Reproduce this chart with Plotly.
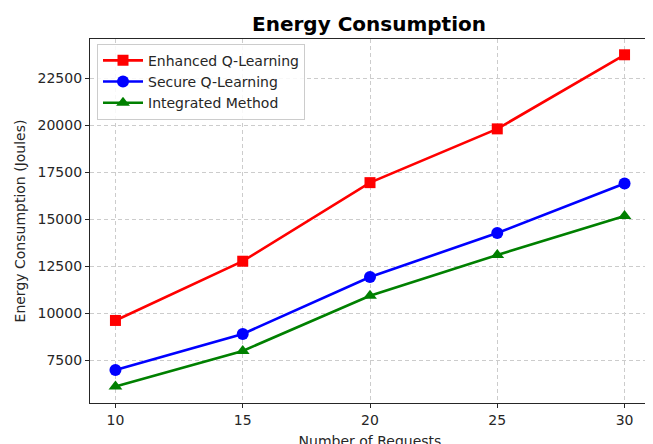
import plotly.graph_objects as go

requests = [10, 15, 20, 25, 30]
enhanced = [9620, 12770, 16950, 19810, 23750]
secure = [6980, 8900, 11930, 14270, 16900]
integrated = [6100, 8000, 10930, 13100, 15180]

x_ticks = [10, 15, 20, 25, 30]
y_ticks = [7500, 10000, 12500, 15000, 17500, 20000, 22500]

fig = go.Figure()
series = [
    ("Enhanced Q-Learning", enhanced, "#ff0000", "square", 11),
    ("Secure Q-Learning", secure, "#0000ff", "circle", 12),
    ("Integrated Method", integrated, "#008000", "triangle-up", 12),
]
for name, vals, color, sym, sz in series:
    fig.add_trace(go.Scatter(
        x=requests, y=vals, name=name, mode="lines+markers",
        line=dict(color=color, width=2.6),
        marker=dict(symbol=sym, size=sz, color=color),
    ))

# the page body adds an 8px offset; margins compensate for it
OFF = 8
W, H = 653, 444
L, R, T, B = 90 - OFF, W - (650 - OFF), 39 - OFF, H - (403 - OFF)
font = "DejaVu Sans"
fig.update_layout(
    width=W, height=H,
    margin=dict(l=L, r=R, t=T, b=B, autoexpand=False),
    paper_bgcolor="white", plot_bgcolor="white",
    font=dict(family=font, size=14, color="#262626"),
    title=dict(text="<b>Energy Consumption</b>", x=(369 - OFF) / W, xanchor="center",
               y=1 - (24 - OFF) / H, yanchor="middle", automargin=False,
               font=dict(size=20, color="black", family=font)),
    showlegend=True,
    legend=dict(x=0.0125, y=0.987, xanchor="left", yanchor="top",
                bgcolor="rgba(255,255,255,0.85)", bordercolor="#cccccc", borderwidth=1,
                font=dict(size=14, color="#262626"), tracegroupgap=0, itemwidth=40),
)
fig.update_xaxes(
    range=[9, 31], tickvals=x_ticks, ticktext=[str(v) for v in x_ticks],
    showline=True, linecolor="#262626", linewidth=1.2, mirror=True, automargin=False,
    ticks="outside", ticklen=4, tickcolor="#262626",
    showgrid=True, gridcolor="#cccccc", griddash="4px,3px", gridwidth=1, zeroline=False,
    title=dict(text="Number of Requests", standoff=9, font=dict(size=14)),
)
fig.update_yaxes(
    range=[5229, 24590], tickvals=y_ticks, ticktext=[str(v) for v in y_ticks],
    showline=True, linecolor="#262626", linewidth=1.2, mirror=True, automargin=False,
    ticks="outside", ticklen=4, tickcolor="#262626",
    showgrid=True, gridcolor="#cccccc", griddash="4px,3px", gridwidth=1, zeroline=False,
    title=dict(text="Energy Consumption (Joules)", standoff=8, font=dict(size=14)),
)
fig.write_html("out.html")
